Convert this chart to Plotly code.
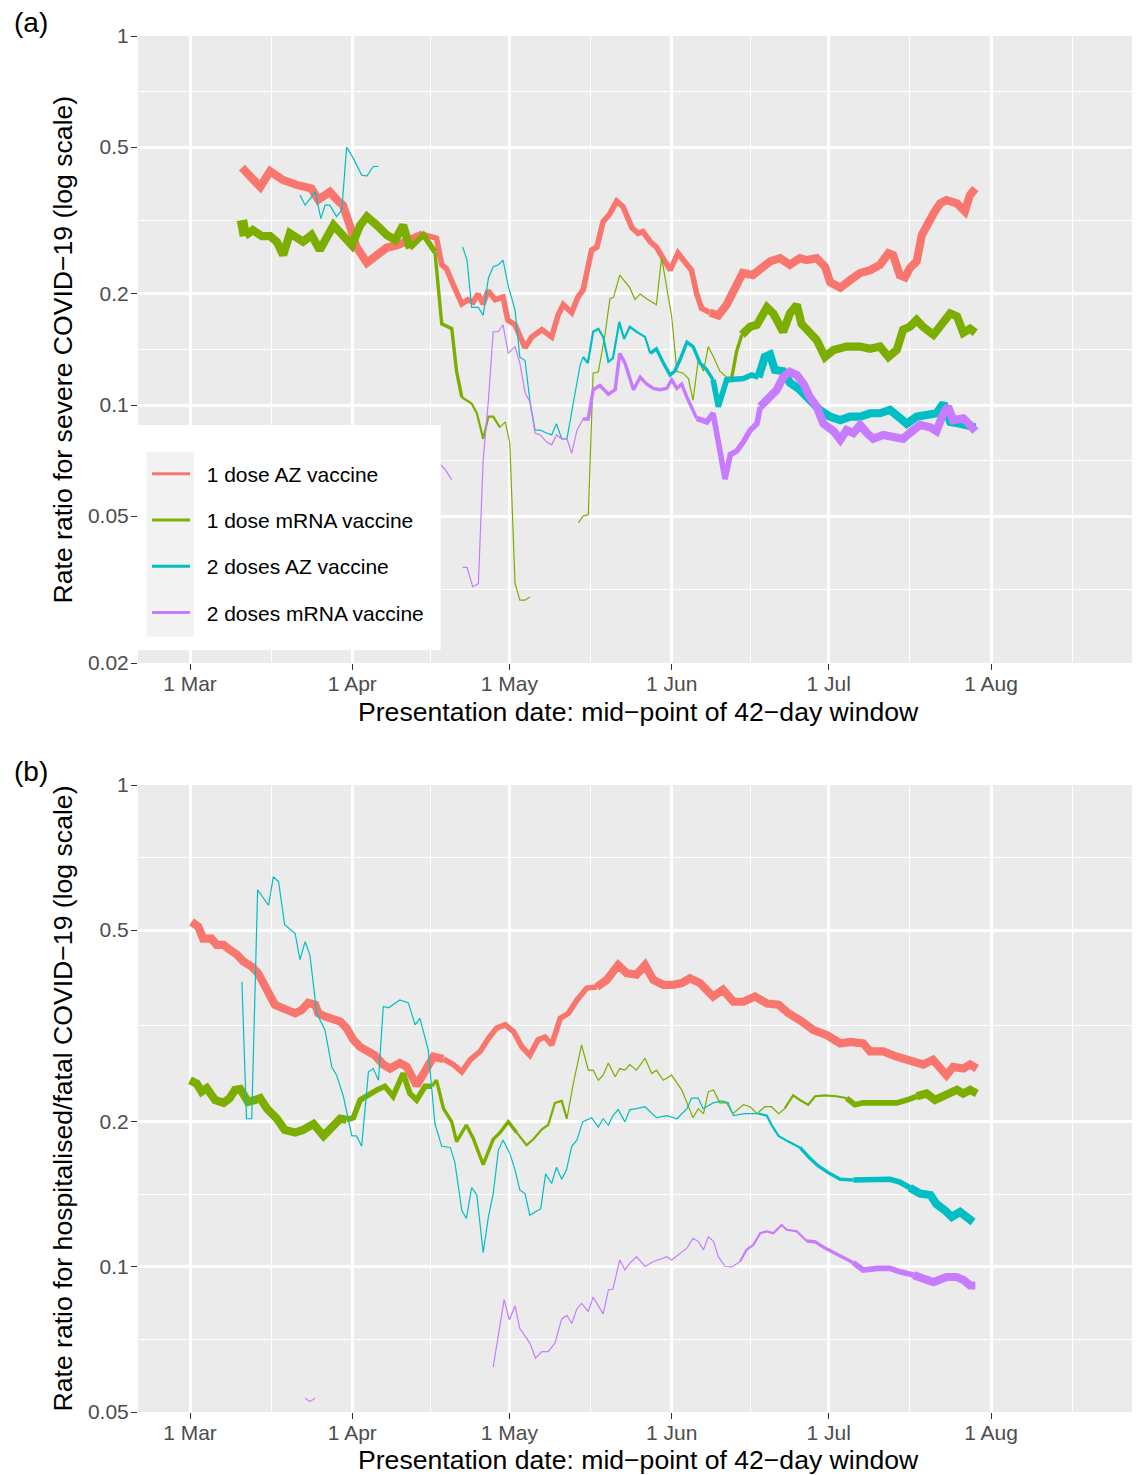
import math
import pandas as pd
import plotly.graph_objects as go

BASE = pd.Timestamp("2021-03-01")

SERIES = ["1 dose AZ vaccine", "1 dose mRNA vaccine", "2 doses AZ vaccine", "2 doses mRNA vaccine"]
COLORS = ["#F8766D", "#7CAE00", "#00BFC4", "#C77CFF"]

# ---------------- Panel (a): severe COVID-19 ----------------
# days since 1 Mar 2021 (mid-point of 42-day window); None marks a gap
a_az1_day = [9.9, 13.4, 15.3, 17.8, 20.4, 23.2, 24.5, 26.7, 28.3, 29.2, 30.6, 31.8, 33.8, 35.7, 37.6, 39.5,
             42.0, 44.5, 47.1, 48.1, 49.0, 50.2, 51.9, 53.1, 54.1, 55.0, 56.0, 56.9, 58.3, 59.8, 60.7, 62.1,
             64.0, 65.3, 67.2, 69.1, 70.3, 71.3, 72.9, 74.1, 75.1, 76.7, 77.7, 78.9, 80.2, 81.5, 82.7, 84.4,
             85.6, 86.5, 87.9, 89.1, 90.4, 91.7, 93.2, 94.6, 95.8, 96.8, 97.7, 99.3, 100.9, 102.5, 104.4,
             105.6, 107.5, 108.9, 110.8, 112.7, 114.6, 116.5, 117.8, 119.7, 121.3, 122.3, 124.2, 126.1,
             128.0, 129.9, 131.8, 133.4, 134.3, 135.6, 136.6, 137.5, 138.8, 139.8, 140.7, 142.0, 143.3,
             144.5, 146.5, 148.0, 149.0, 150.0]
a_az1_rr = [0.44, 0.39, 0.43, 0.407, 0.395, 0.386, 0.36, 0.378, 0.357, 0.348, 0.305, 0.268, 0.243, 0.253,
            0.267, 0.271, 0.28, 0.29, 0.283, 0.24, 0.234, 0.213, 0.188, 0.193, 0.19, 0.2, 0.188, 0.204, 0.193,
            0.196, 0.17, 0.165, 0.143, 0.153, 0.16, 0.153, 0.175, 0.187, 0.178, 0.196, 0.205, 0.263, 0.268,
            0.314, 0.33, 0.357, 0.345, 0.302, 0.292, 0.295, 0.277, 0.268, 0.25, 0.232, 0.258, 0.245, 0.232,
            0.2, 0.183, 0.178, 0.175, 0.187, 0.213, 0.228, 0.225, 0.235, 0.245, 0.25, 0.24, 0.25, 0.247,
            0.25, 0.237, 0.215, 0.208, 0.218, 0.228, 0.232, 0.24, 0.258, 0.255, 0.225, 0.222, 0.235, 0.245,
            0.289, 0.307, 0.33, 0.352, 0.359, 0.352, 0.335, 0.371, 0.386]
a_az1_prec = [(0, 5), (47, 4), (100, 5)]

a_mr1_day = [9.9, 10.5, 12.0, 13.7, 15.3, 16.6, 17.8, 19.1, 21.6, 23.2, 24.8, 27.4, 29.3, 30.9, 32.5, 33.8,
             35.7, 37.6, 39.2, 40.7, 42.0, 44.6, 46.8, 48.1, 50.0, 50.9, 51.9, 53.8, 54.8, 56.0, 57.0, 57.9,
             59.2, 60.2, 61.1, 62.1, 63.0, 64.0, 64.9, 69.0,
             74.2, 75.1, 76.1, 77.0, 78.0, 79.3, 80.2, 80.9, 82.1, 84.0, 85.0, 86.0, 87.2, 89.1, 90.1, 91.1,
             92.0, 93.0, 94.2, 95.2, 96.1, 97.1, 98.1, 99.0, 100.0, 101.2, 102.5, 103.5, 104.4, 105.4, 107.0,
             108.3, 110.2, 111.4, 113.3, 114.6, 115.9, 116.8, 117.8, 119.7, 121.3, 122.9, 125.4, 128.0,
             129.9, 131.8, 133.4, 135.0, 136.2, 137.5, 138.8, 140.0, 142.0, 143.3, 145.2, 146.5, 147.7,
             149.0, 150.0]
a_mr1_rr = [0.317, 0.287, 0.298, 0.287, 0.287, 0.277, 0.255, 0.292, 0.277, 0.289, 0.263, 0.307, 0.287, 0.271,
            0.307, 0.324, 0.307, 0.289, 0.28, 0.307, 0.266, 0.289, 0.26, 0.166, 0.161, 0.1235, 0.105, 0.101,
            0.095, 0.081, 0.093, 0.093, 0.087, 0.09, 0.079, 0.0329, 0.0296, 0.0296, 0.0302, None,
            0.048, 0.05, 0.0504, 0.122, 0.123, 0.156, 0.194, 0.196, 0.225, 0.208, 0.193, 0.2, 0.194, 0.187,
            0.251, 0.21, 0.174, 0.1235, 0.122, 0.118, 0.103, 0.1324, 0.1235, 0.144, 0.135, 0.1235, 0.119,
            0.119, 0.14, 0.155, 0.163, 0.165, 0.184, 0.177, 0.158, 0.177, 0.187, 0.166, 0.161, 0.15, 0.135,
            0.141, 0.144, 0.144, 0.142, 0.144, 0.135, 0.141, 0.16, 0.163, 0.17, 0.163, 0.155, 0.163, 0.177,
            0.174, 0.157, 0.161, 0.157]
a_mr1_prec = [(0, 6), (12, 5), (44, 4), (48, 3), (52, 2), (60, 1), (104, 3), (106.5, 5)]

a_az2_day = [21.0, 22.0, 23.9, 25.0, 25.8, 26.7, 28.0, 29.0, 29.9, 31.2, 32.8, 33.8, 35.0, 36.0, 44.0,
             52.1, 52.9, 53.8, 55.1, 56.0, 57.0, 57.9, 58.9, 59.8, 60.8, 62.1, 63.0, 64.0, 64.9, 65.9, 66.9,
             68.1, 69.1, 70.0, 71.0, 72.0, 72.9, 73.9, 74.5, 75.1, 76.0, 77.0, 78.0, 78.9, 79.9, 80.8, 82.0,
             82.9, 84.0, 85.3, 86.9, 87.9, 89.1, 90.4, 91.7, 92.6, 93.6, 94.9, 96.1, 97.4, 98.7, 99.9, 100.9,
             102.5, 103.7, 105.7, 107.3, 108.6, 109.8, 110.8, 111.7, 113.3, 114.6, 116.5, 118.4, 120.3, 122.3,
             124.2, 126.1, 128.0, 129.9, 131.8, 133.7, 135.6, 136.9, 138.8, 140.7, 142.6, 143.9, 145.2, 147.1,
             148.7, 150.0]
a_az2_rr = [0.371, 0.348, 0.378, 0.32, 0.348, 0.348, 0.324, 0.338, 0.5, 0.466, 0.42, 0.417, 0.443, 0.443, None,
            0.268, 0.247, 0.184, 0.184, 0.175, 0.221, 0.237, 0.24, 0.247, 0.21, 0.181, 0.135, 0.132, 0.103,
            0.0855, 0.0855, 0.084, 0.083, 0.089, 0.081, 0.081, 0.095, 0.113, 0.128, 0.135, 0.13, 0.158, 0.161,
            0.153, 0.131, 0.134, 0.168, 0.151, 0.163, 0.158, 0.153, 0.138, 0.142, 0.13, 0.1206, 0.1235, 0.1324,
            0.148, 0.144, 0.13, 0.1245, 0.117, 0.099, 0.117, 0.117, 0.118, 0.1206, 0.119, 0.135, 0.137, 0.1245,
            0.1235, 0.115, 0.11, 0.103, 0.097, 0.093, 0.091, 0.093, 0.093, 0.095, 0.095, 0.097, 0.093, 0.089,
            0.093, 0.094, 0.095, 0.101, 0.09, 0.089, 0.0883, 0.087]
a_az2_prec = [(0, 1), (76, 2), (88, 3), (100, 4), (109, 5)]

a_mr2_day = [46.5, 47.8, 48.7, 50.0, 51.0,
             52.1, 52.9, 54.0, 55.1, 56.0, 57.0, 57.9, 58.9, 59.8, 60.8, 62.1, 63.0, 64.0, 64.9, 65.9, 66.9,
             68.1, 69.1, 70.0, 71.0, 72.0, 72.9, 73.9, 75.1, 76.1, 77.0, 78.3, 79.9, 81.2, 82.1, 83.1, 84.7,
             86.0, 87.2, 88.5, 89.8, 91.1, 92.0, 93.0, 93.9, 94.9, 96.8, 98.7, 99.9, 100.9, 102.2, 103.2, 104.4,
             105.7, 107.0, 108.3, 108.9, 110.8, 112.1, 113.3, 114.6, 115.9, 117.2, 118.4, 119.7, 121.0, 122.9,
             124.2, 125.4, 126.7, 128.0, 129.3, 130.5, 132.4, 134.3, 136.2, 137.5, 139.4, 141.4, 142.6, 143.9,
             144.8, 145.8, 147.7, 149.0, 150.0]
a_mr2_rr = [0.0705, 0.069, 0.067, 0.0627, None,
            0.0363, 0.0363, 0.0322, 0.0328, 0.071, 0.103, 0.158, 0.158, 0.165, 0.138, 0.144, 0.13, 0.108, 0.102,
            0.084, 0.083, 0.0795, 0.078, 0.083, 0.081, 0.081, 0.074, 0.0855, 0.0917, 0.0917, 0.11, 0.113,
            0.107, 0.11, 0.138, 0.13, 0.11, 0.119, 0.114, 0.111, 0.11, 0.111, 0.117, 0.111, 0.114, 0.105,
            0.092, 0.09, 0.095, 0.0795, 0.063, 0.0735, 0.075, 0.0795, 0.0855, 0.089, 0.099, 0.105, 0.11,
            0.119, 0.123, 0.1206, 0.114, 0.105, 0.099, 0.089, 0.085, 0.0805, 0.0855, 0.084, 0.0883, 0.084,
            0.081, 0.083, 0.082, 0.081, 0.084, 0.0883, 0.087, 0.085, 0.095, 0.099, 0.091, 0.092, 0.0883, 0.085]
a_mr2_prec = [(0, 1), (76, 3), (98, 4), (110, 5)]

# ---------------- Panel (b): hospitalised/fatal COVID-19 ----------------
b_az1_day = [0.3, 1.6, 2.5, 4.1, 5.1, 6.4, 7.6, 8.9, 10.2, 11.8, 13.0, 14.3, 15.3, 16.2, 17.5, 18.8, 20.1,
             21.3, 22.6, 23.9, 24.5, 25.8, 27.4, 28.7, 29.9, 31.2, 32.5, 33.8, 35.3, 36.9, 38.2, 40.1, 41.4,
             43.3, 44.9, 46.5, 48.4, 50.3, 51.9, 53.5, 55.4, 57.0, 58.6, 60.2, 61.8, 63.4, 64.9, 66.5, 67.8,
             69.1, 70.7, 72.3, 73.9, 75.8, 77.7, 79.6, 81.8, 83.4, 85.3, 86.9, 88.5, 90.4, 92.3, 93.9, 95.5,
             97.4, 99.9, 101.8, 103.8, 105.7, 107.9, 110.2, 112.4, 114.3, 116.5, 119.1, 121.6, 124.2, 126.1,
             128.6, 129.9, 132.4, 135.0, 137.5, 140.1, 141.9, 144.5, 145.8, 147.7, 149.0, 150.3]
b_az1_rr = [0.52, 0.508, 0.48, 0.48, 0.466, 0.466, 0.455, 0.445, 0.43, 0.42, 0.407, 0.385, 0.37, 0.35, 0.345,
            0.341, 0.336, 0.341, 0.353, 0.35, 0.336, 0.331, 0.328, 0.323, 0.313, 0.296, 0.286, 0.28, 0.275,
            0.263, 0.258, 0.265, 0.26, 0.238, 0.256, 0.273, 0.27, 0.263, 0.254, 0.269, 0.28, 0.298, 0.313,
            0.318, 0.308, 0.286, 0.275, 0.296, 0.3, 0.289, 0.328, 0.336, 0.358, 0.379, 0.381, 0.394, 0.423,
            0.407, 0.404, 0.423, 0.394, 0.385, 0.385, 0.388, 0.397, 0.388, 0.364, 0.376, 0.355, 0.355, 0.364,
            0.352, 0.35, 0.336, 0.325, 0.31, 0.303, 0.291, 0.293, 0.291, 0.28, 0.28, 0.273, 0.267, 0.263,
            0.269, 0.25, 0.26, 0.258, 0.263, 0.258]
b_az1_prec = [(0, 5), (50, 4), (78, 5)]

b_mr1_day = [0.0, 1.3, 2.2, 3.2, 4.8, 6.4, 7.6, 8.6, 9.6, 11.1, 12.4, 13.4, 14.7, 16.6, 18.1, 20.1, 21.6,
             23.6, 25.5, 27.1, 28.7, 29.9, 31.2, 32.5, 33.8, 35.7, 37.2, 38.8, 40.7, 42.0, 43.3, 44.9, 46.2,
             47.1, 48.4, 50.0, 50.9, 52.8, 54.1, 56.0, 57.9, 59.2, 60.8, 62.4, 64.3, 65.6, 67.2, 68.4, 69.7,
             71.0, 72.0, 73.2, 74.8, 76.1, 77.0, 78.0, 78.9, 79.9, 81.2, 82.1, 83.1, 84.0, 85.3, 86.9, 88.2,
             89.1, 90.4, 92.0, 93.9, 96.1, 97.1, 98.1, 99.0, 100.0, 101.2, 102.5, 103.7, 105.7, 107.0, 108.3,
             109.8, 111.1, 112.4, 113.6, 115.2, 116.5, 118.1, 119.4, 121.3, 123.5, 125.4, 127.0, 128.6, 130.5,
             132.4, 135.0, 136.9, 138.8, 140.7, 142.3, 143.9, 145.2, 146.5, 147.7, 149.0, 150.3]
b_mr1_rr = [0.244, 0.24, 0.231, 0.235, 0.222, 0.219, 0.224, 0.233, 0.234, 0.22, 0.222, 0.224, 0.213, 0.203,
            0.1924, 0.19, 0.1924, 0.198, 0.187, 0.195, 0.203, 0.202, 0.204, 0.222, 0.227, 0.233, 0.237, 0.226,
            0.252, 0.229, 0.222, 0.237, 0.237, 0.244, 0.213, 0.2, 0.182, 0.197, 0.185, 0.163, 0.184, 0.19, 0.2,
            0.19, 0.179, 0.184, 0.193, 0.197, 0.219, 0.221, 0.203, 0.24, 0.289, 0.256, 0.256, 0.244, 0.25,
            0.265, 0.248, 0.258, 0.256, 0.263, 0.256, 0.271, 0.252, 0.256, 0.244, 0.25, 0.233, 0.204, 0.213,
            0.208, 0.231, 0.233, 0.219, 0.219, 0.208, 0.217, 0.215, 0.208, 0.215, 0.215, 0.208, 0.213, 0.227,
            0.222, 0.217, 0.226, 0.227, 0.226, 0.224, 0.217, 0.219, 0.219, 0.219, 0.219, 0.222, 0.226, 0.229,
            0.222, 0.226, 0.231, 0.233, 0.229, 0.233, 0.229]
b_mr1_prec = [(0, 5), (31, 4), (47, 3), (63, 2), (73, 1), (114, 2), (126, 4), (140, 5)]

b_az2_day = [9.9, 10.8, 11.8, 12.9, 15.0, 15.9, 16.9, 18.1, 20.1, 21.0, 22.0, 22.9, 24.2, 25.8, 27.1, 28.0,
             29.3, 30.9, 31.8, 32.8, 34.1, 35.0, 36.0, 36.9, 37.9, 38.8, 40.1, 41.7, 43.0, 43.9, 45.5, 46.8,
             48.1, 49.7, 50.6, 51.9, 52.8, 53.8, 54.8, 56.0, 57.0, 57.9, 58.9, 59.8, 61.1, 62.1, 63.0, 64.0,
             64.9, 65.9, 67.0, 67.9, 69.1, 70.0, 71.0, 71.9, 72.9, 73.9, 75.0, 76.7, 78.0, 78.9, 79.9, 80.8,
             81.8, 83.1, 84.0, 85.3, 86.9, 89.1, 91.1, 93.0, 94.9, 95.8, 97.1, 98.0, 99.9, 101.6, 102.8, 103.8,
             106.0, 108.6, 110.2, 111.1, 112.4, 114.3, 116.5, 118.4, 120.0, 122.3, 124.2, 126.7, 129.3, 131.8,
             133.7, 135.6, 137.5, 139.4, 141.4, 142.6, 144.2, 145.5, 147.1, 148.4, 149.6]
b_az2_rr = [0.39, 0.203, 0.203, 0.606, 0.563, 0.645, 0.63, 0.513, 0.492, 0.434, 0.473, 0.443, 0.336, 0.31,
            0.26, 0.25, 0.226, 0.187, 0.187, 0.178, 0.254, 0.258, 0.244, 0.347, 0.345, 0.35, 0.358, 0.353,
            0.318, 0.328, 0.282, 0.198, 0.178, 0.177, 0.165, 0.131, 0.126, 0.146, 0.141, 0.107, 0.127, 0.142,
            0.175, 0.1834, 0.172, 0.159, 0.1445, 0.142, 0.128, 0.13, 0.132, 0.156, 0.149, 0.161, 0.152, 0.159,
            0.178, 0.1834, 0.2, 0.204, 0.195, 0.203, 0.197, 0.206, 0.212, 0.2, 0.212, 0.213, 0.215, 0.204,
            0.206, 0.203, 0.213, 0.224, 0.224, 0.213, 0.219, 0.221, 0.219, 0.206, 0.208, 0.208, 0.206, 0.197,
            0.187, 0.182, 0.177, 0.168, 0.162, 0.156, 0.152, 0.1515, 0.152, 0.152, 0.152, 0.15, 0.146, 0.142,
            0.141, 0.135, 0.131, 0.127, 0.13, 0.127, 0.124]
b_az2_prec = [(0, 1), (110, 2), (118, 3), (128, 4), (138, 5)]

b_mr2_day = [22.0, 22.9, 23.9, 40.0,
             57.9, 58.9, 60.0, 61.0, 62.1, 63.0, 64.0, 64.9, 66.0, 67.2, 68.4, 69.7, 71.0, 72.0, 72.9, 73.9,
             74.8, 76.1, 77.0, 78.9, 79.9, 80.8, 82.1, 83.1, 84.0, 85.3, 86.9, 88.5, 90.1, 91.1, 92.0, 93.3,
             94.9, 96.1, 97.1, 98.1, 99.0, 100.0, 100.9, 102.2, 103.5, 105.1, 106.3, 107.6, 108.9, 110.2,
             111.4, 113.0, 114.0, 115.9, 117.8, 119.4, 121.3, 122.9, 124.8, 126.7, 128.6, 131.2, 133.7, 135.6,
             138.2, 140.1, 142.0, 144.5, 146.4, 147.7, 149.0, 150.0]
b_mr2_rr = [0.0534, 0.0526, 0.0534, None,
            0.062, 0.073, 0.0855, 0.0776, 0.083, 0.0745, 0.0718, 0.0695, 0.0647, 0.0667, 0.0667, 0.0695,
            0.078, 0.0793, 0.0763, 0.082, 0.084, 0.0808, 0.0866, 0.0799, 0.0896, 0.09, 0.1034, 0.0986, 0.1018,
            0.105, 0.1002, 0.1026, 0.104, 0.105, 0.1034, 0.106, 0.1094, 0.1146, 0.113, 0.1085, 0.1155, 0.113,
            0.105, 0.1002, 0.1, 0.1026, 0.1085, 0.111, 0.1175, 0.1185, 0.1175, 0.1222, 0.1194, 0.1185, 0.1132,
            0.1127, 0.1094, 0.107, 0.1044, 0.102, 0.0985, 0.0993, 0.0993, 0.0977, 0.0962, 0.0945, 0.093,
            0.0953, 0.0953, 0.094, 0.0915, 0.0915]
b_mr2_prec = [(0, 1), (106, 2), (118, 3), (128, 4), (140, 5)]

MAJOR_DATES = ["2021-03-01", "2021-04-01", "2021-05-01", "2021-06-01", "2021-07-01", "2021-08-01"]
MAJOR_LABELS = ["1 Mar", "1 Apr", "1 May", "1 Jun", "1 Jul", "1 Aug"]
MINOR_DATES = ["2021-03-16 12:00", "2021-04-16", "2021-05-16 12:00", "2021-06-16", "2021-07-16 12:00",
               "2021-08-16 12:00"]
A_TICKS = [0.02, 0.05, 0.1, 0.2, 0.5, 1]
B_TICKS = [0.05, 0.1, 0.2, 0.5, 1]

# ---------------- drawing ----------------
WIDTH_OF_PREC = {1: 1.2, 2: 2.2, 3: 3.4, 4: 5.6, 5: 8.2, 6: 10.5}
FONT = "Liberation Sans, Arial, sans-serif"

# the page body has an 8px margin, so the figure is laid out 8px in from the window corner
OFF = 8
WIN_W, WIN_H = 1140, 1475
W, H = WIN_W - OFF, WIN_H - OFF
PL, PR, PT, PB = 138, 1138, 36, 1412          # plot area in window pixels
ML, MR, MT, MB = PL - OFF, WIN_W - PR, PT - OFF, WIN_H - PB
PW, PH = PR - PL, PB - PT


def px_x(px):
    return (px - PL) / PW


def px_y(py):
    return (PB - py) / PH


def level_at(day, breaks):
    lv = breaks[0][1]
    for d0, l in breaks:
        if day >= d0:
            lv = l
    return lv


def segments(days, vals, breaks):
    segs, cx, cy, cl = [], [], [], None
    for d, v in zip(days, vals):
        if v is None:
            if len(cx) > 1:
                segs.append((cx, cy, cl))
            cx, cy, cl = [], [], None
            continue
        l = level_at(d, breaks)
        if cl is not None and l != cl:
            segs.append((cx, cy, cl))
            cx, cy = [cx[-1]], [cy[-1]]
        cx.append(d)
        cy.append(v)
        cl = l
    if len(cx) > 1:
        segs.append((cx, cy, cl))
    return segs


def to_dates(days):
    return [BASE + pd.Timedelta(hours=round(d * 24)) for d in days]


fig = go.Figure()

panels = [
    ("x", "y", [(a_az1_day, a_az1_rr, a_az1_prec), (a_mr1_day, a_mr1_rr, a_mr1_prec),
                (a_az2_day, a_az2_rr, a_az2_prec), (a_mr2_day, a_mr2_rr, a_mr2_prec)]),
    ("x2", "y2", [(b_az1_day, b_az1_rr, b_az1_prec), (b_mr1_day, b_mr1_rr, b_mr1_prec),
                  (b_az2_day, b_az2_rr, b_az2_prec), (b_mr2_day, b_mr2_rr, b_mr2_prec)]),
]
for xa, ya, series in panels:
    for k, (days, vals, prec) in enumerate(series):
        for sx, sy, lv in segments(days, vals, prec):
            fig.add_trace(go.Scatter(
                x=to_dates(sx), y=sy, mode="lines", xaxis=xa, yaxis=ya,
                line=dict(color=COLORS[k], width=WIDTH_OF_PREC[lv]),
                legendgroup=SERIES[k], showlegend=False, hoverinfo="skip"))

# legend entries
NBSP = "\u00a0\u00a0"
for k in range(4):
    fig.add_trace(go.Scatter(x=[None], y=[None], mode="lines", xaxis="x", yaxis="y",
                             line=dict(color=COLORS[k], width=3), name=NBSP + SERIES[k],
                             legendgroup=SERIES[k], showlegend=True))

PX_PER_DAY = 5.2353
x_range = [BASE + pd.Timedelta(days=(PL - 190) / PX_PER_DAY), BASE + pd.Timedelta(days=(PR - 190) / PX_PER_DAY)]

common_x = dict(type="date", range=x_range, tickmode="array", tickvals=MAJOR_DATES, ticktext=MAJOR_LABELS,
                showgrid=True, gridcolor="white", gridwidth=2.6, zeroline=False, showline=False,
                ticks="outside", ticklen=6, tickwidth=1.3, tickcolor="#333333", ticklabelstandoff=-4,
                tickfont=dict(size=21, color="#4D4D4D", family=FONT),
                minor=dict(tickmode="array", tickvals=MINOR_DATES, showgrid=True, gridcolor="white",
                           gridwidth=1.3, ticks=""))


def y_axis(ticks, lo, domain, anchor):
    minors = [math.sqrt(ticks[i] * ticks[i + 1]) for i in range(len(ticks) - 1)]
    return dict(type="log", range=[math.log10(lo), 0], domain=domain, anchor=anchor,
                tickmode="array", tickvals=ticks, ticktext=[("%g" % t) for t in ticks],
                showgrid=True, gridcolor="white", gridwidth=2.6, zeroline=False, showline=False,
                ticks="outside", ticklen=6, tickwidth=1.3, tickcolor="#333333", ticklabelstandoff=-2,
                tickfont=dict(size=21, color="#4D4D4D", family=FONT),
                minor=dict(tickmode="array", tickvals=minors, showgrid=True, gridcolor="white",
                           gridwidth=1.3, ticks=""))


dom_a = [px_y(663), 1.0]
dom_b = [0.0, px_y(785)]


def note(text, px, py, size, angle=0):
    return dict(text=text, x=px_x(px), y=px_y(py), xref="paper", yref="paper", showarrow=False,
                xanchor="center", yanchor="middle", textangle=angle,
                font=dict(size=size, color="black", family=FONT))


XTITLE = "Presentation date: mid\u2212point of 42\u2212day window"

fig.update_layout(
    width=W, height=H, margin=dict(l=ML, r=MR, t=MT, b=MB, autoexpand=False),
    paper_bgcolor="white", plot_bgcolor="#EBEBEB",
    font=dict(family=FONT, color="black"),
    xaxis=dict(common_x, anchor="y", domain=[0, 1]),
    yaxis=y_axis(A_TICKS, 0.02, dom_a, "x"),
    xaxis2=dict(common_x, anchor="y2", domain=[0, 1]),
    yaxis2=y_axis(B_TICKS, 0.05, dom_b, "x2"),
    showlegend=True,
    legend=dict(x=px_x(147), y=px_y(453.5), xanchor="left", yanchor="top", bgcolor="rgba(0,0,0,0)",
                font=dict(size=21, family=FONT, color="black"), traceorder="grouped",
                tracegroupgap=16, itemwidth=38, borderwidth=0),
    shapes=[
        dict(type="rect", xref="paper", yref="paper", x0=px_x(138), x1=px_x(440.7), y0=px_y(650), y1=px_y(425),
             fillcolor="white", line=dict(width=0), layer="above"),
        dict(type="rect", xref="paper", yref="paper", x0=px_x(146.7), x1=px_x(194), y0=px_y(636.7),
             y1=px_y(451.7), fillcolor="#F2F2F2", line=dict(width=0), layer="above"),
    ],
    annotations=[
        note("(a)", 31, 22, 28),
        note("(b)", 31, 771, 28),
        note(XTITLE, 638, 712, 26.6),
        note(XTITLE, 638, 1460, 26.6),
        note("Rate ratio for severe COVID\u221219 (log scale)", 62, 349.5, 26.6, -90),
        note("Rate ratio for hospitalised/fatal COVID\u221219 (log scale)", 62, 1098.5, 26.6, -90),
    ],
)

fig.write_html("out.html")
